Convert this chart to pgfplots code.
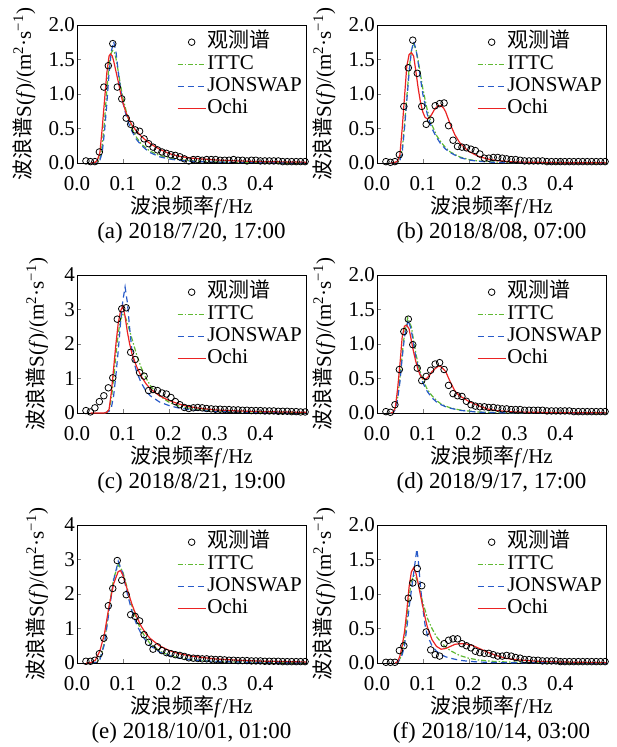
\documentclass[border=0pt]{standalone}
\usepackage{fontspec}
\setmainfont{Liberation Serif}
\newfontfamily\cjk{Noto Sans CJK SC}
\usepackage{pgfplots}
\usepackage{pgfplotstable}
\pgfplotsset{compat=1.18}
\definecolor{ittc}{RGB}{95,185,50}
\definecolor{jon}{RGB}{40,90,200}
\definecolor{ochi}{RGB}{235,35,35}
\newcommand\tf{\fontsize{21}{24}\selectfont}
\newcommand\cf{\fontsize{23}{26}\selectfont}

\pgfplotstableread{
fr A B C D E F
0.0195 0.03 0.02 0.07 0.02 0.05 0.01
0.0293 0.02 0.01 0.03 0.01 0.05 0.01
0.0391 0.02 0.02 0.15 0.12 0.08 0.01
0.0488 0.16 0.12 0.33 0.63 0.27 0.18
0.0586 1.10 0.82 0.50 1.18 0.72 0.25
0.0684 1.41 1.38 0.73 1.36 1.66 0.94
0.0781 1.73 1.78 1.02 0.99 2.16 1.16
0.0879 1.10 1.30 2.72 0.65 2.97 1.37
0.0977 0.93 0.82 3.02 0.47 2.40 1.12
0.1074 0.65 0.56 3.05 0.53 1.98 0.45
0.1172 0.56 0.62 1.76 0.62 1.40 0.19
0.1270 0.48 0.83 1.55 0.71 1.35 0.12
0.1367 0.46 0.86 1.17 0.73 1.22 0.10
0.1465 0.35 0.87 1.07 0.63 0.82 0.28
0.1563 0.28 0.54 0.65 0.40 0.60 0.33
0.1660 0.23 0.33 0.68 0.28 0.40 0.35
0.1758 0.19 0.24 0.65 0.25 0.47 0.35
0.1855 0.16 0.23 0.58 0.24 0.36 0.28
0.1953 0.14 0.22 0.55 0.17 0.30 0.25
0.2051 0.12 0.20 0.45 0.12 0.27 0.22
0.2148 0.11 0.18 0.33 0.10 0.24 0.17
0.2246 0.09 0.13 0.24 0.09 0.22 0.15
0.2344 0.06 0.07 0.16 0.09 0.19 0.14
0.2441 0.03 0.07 0.13 0.08 0.15 0.14
0.2539 0.05 0.08 0.15 0.08 0.14 0.12
0.2637 0.05 0.08 0.16 0.07 0.13 0.10
0.2734 0.04 0.07 0.15 0.06 0.12 0.10
0.2832 0.05 0.06 0.13 0.06 0.12 0.11
0.2930 0.05 0.05 0.12 0.05 0.11 0.10
0.3027 0.05 0.05 0.11 0.05 0.10 0.08
0.3125 0.04 0.04 0.11 0.05 0.10 0.07
0.3223 0.04 0.03 0.10 0.04 0.09 0.05
0.3320 0.04 0.03 0.10 0.04 0.08 0.05
0.3418 0.05 0.03 0.09 0.04 0.08 0.04
0.3516 0.04 0.03 0.09 0.04 0.07 0.04
0.3613 0.04 0.03 0.08 0.04 0.07 0.03
0.3711 0.03 0.02 0.08 0.03 0.07 0.03
0.3809 0.04 0.02 0.07 0.03 0.06 0.03
0.3906 0.04 0.02 0.07 0.03 0.06 0.03
0.4004 0.03 0.02 0.07 0.03 0.06 0.02
0.4102 0.03 0.02 0.06 0.03 0.05 0.02
0.4199 0.03 0.02 0.06 0.03 0.05 0.02
0.4297 0.03 0.02 0.06 0.02 0.05 0.02
0.4395 0.03 0.02 0.05 0.02 0.05 0.02
0.4492 0.02 0.02 0.05 0.02 0.04 0.02
0.4590 0.02 0.02 0.05 0.02 0.04 0.02
0.4688 0.02 0.02 0.04 0.02 0.04 0.02
0.4785 0.02 0.02 0.04 0.02 0.04 0.02
0.4883 0.02 0.02 0.03 0.02 0.04 0.02
0.4980 0.02 0.02 0.03 0.02 0.04 0.02
}\obs

\pgfplotsset{
  panel/.style={
    scale only axis, width=229pt, height=138pt,
    anchor=south west, clip=false,
    xmin=0, xmax=0.5, ymin=0,
    xtick={0,0.1,0.2,0.3,0.4},
    tick align=inside, xtick pos=bottom, ytick pos=left,
    major tick length=4pt,
    axis line style={line width=0.7pt},
    /pgf/number format/assume math mode=true,
    ticklabel style={font=\tf},
    xticklabel style={/pgf/number format/fixed, /pgf/number format/fixed zerofill, /pgf/number format/precision=1, inner sep=1pt, yshift=-12pt},
    yticklabel style={inner sep=2pt},
    xlabel={{\cjk 波浪频率}\textit{f}/Hz},
    xlabel style={font=\tf, at={(axis description cs:0.5,-0.319)}, anchor=center},
    ylabel={{\cjk 波浪谱}S(\textit{f})/(m\textsuperscript{2}·s\textsuperscript{−1})},
    ylabel style={font=\tf, anchor=center},
    legend style={at={(1,1)}, anchor=north east, draw=none, fill=none, inner sep=0pt,
      xshift=-3pt, yshift=-6pt, font=\tf,
      nodes={inner sep=1pt, text height=15pt, text depth=5pt}, row sep=0pt},
    legend cell align=left,
    legend image code/.code={\draw[mark repeat=2,mark phase=2,##1] plot coordinates {(0pt,0pt) (14pt,0pt) (28pt,0pt)};},
  },
  ytwo/.style={ymax=2, ytick={0,0.5,1,1.5,2},
    yticklabel style={/pgf/number format/fixed, /pgf/number format/fixed zerofill, /pgf/number format/precision=1},
    ylabel style={at={(axis description cs:-0.231,0.5)}}},
  yfour/.style={ymax=4, ytick={0,1,2,3,4},
    ylabel style={at={(axis description cs:-0.175,0.5)}}},
  obsp/.style={only marks, mark=o, mark size=3.3pt, black, mark options={line width=0.8pt}},
  ittcp/.style={color=ittc, line width=1.2pt, dash pattern=on 5pt off 2pt on 1.5pt off 2pt, mark=none},
  jonp/.style={color=jon, line width=1.2pt, dash pattern=on 6pt off 4pt, mark=none},
  ochip/.style={color=ochi, line width=1.2pt, mark=none},
}

\begin{document}
\begin{tikzpicture}
\useasboundingbox (0pt,0pt) rectangle (617pt,747pt);

% (a)
\begin{axis}[panel, ytwo, at={(77pt,584pt)}]
\addplot[obsp] table[x=fr,y=A] {\obs};
\addplot[ittcp] coordinates {(0.03,0) (0.04,0.005) (0.045,0.02) (0.05,0.06) (0.055,0.25) (0.06,0.6) (0.065,1.05) (0.07,1.42) (0.075,1.6) (0.078,1.63) (0.082,1.6) (0.085,1.52) (0.09,1.33) (0.095,1.13) (0.1,0.95) (0.11,0.68) (0.12,0.5) (0.13,0.37) (0.14,0.28) (0.15,0.22) (0.16,0.17) (0.18,0.11) (0.2,0.07) (0.22,0.05) (0.25,0.03) (0.3,0.015) (0.35,0.008) (0.4,0.005) (0.5,0.002)};
\addplot[jonp] coordinates {(0.03,0) (0.045,0.01) (0.05,0.04) (0.055,0.15) (0.06,0.45) (0.065,0.85) (0.07,1.3) (0.075,1.62) (0.08,1.76) (0.085,1.62) (0.09,1.32) (0.095,1.08) (0.1,0.88) (0.11,0.62) (0.12,0.46) (0.13,0.34) (0.14,0.26) (0.15,0.2) (0.16,0.15) (0.18,0.09) (0.2,0.06) (0.22,0.04) (0.25,0.025) (0.3,0.012) (0.4,0.004) (0.5,0.002)};
\addplot[ochip] coordinates {(0.03,0) (0.04,0.01) (0.045,0.05) (0.05,0.15) (0.055,0.5) (0.06,0.9) (0.065,1.3) (0.07,1.55) (0.073,1.58) (0.077,1.55) (0.08,1.48) (0.085,1.33) (0.09,1.18) (0.095,1.02) (0.1,0.88) (0.105,0.77) (0.11,0.68) (0.12,0.55) (0.13,0.46) (0.14,0.39) (0.15,0.33) (0.16,0.28) (0.17,0.24) (0.18,0.2) (0.2,0.14) (0.22,0.1) (0.25,0.07) (0.3,0.045) (0.35,0.03) (0.4,0.02) (0.5,0.012)};
\legend{{\cjk 观测谱},ITTC,JONSWAP,Ochi}
\node[font=\cf] at (axis description cs:0.5,-0.507) {(a) 2018/7/20, 17:00};
\end{axis}

% (b)
\begin{axis}[panel, ytwo, at={(377pt,584pt)}]
\addplot[obsp] table[x=fr,y=B] {\obs};
\addplot[ittcp] coordinates {(0.03,0) (0.045,0.01) (0.05,0.05) (0.055,0.2) (0.06,0.55) (0.065,0.95) (0.07,1.35) (0.075,1.62) (0.08,1.72) (0.085,1.65) (0.09,1.48) (0.095,1.28) (0.1,1.08) (0.11,0.76) (0.12,0.55) (0.13,0.4) (0.14,0.3) (0.15,0.22) (0.16,0.16) (0.18,0.09) (0.2,0.05) (0.22,0.03) (0.25,0.015) (0.3,0.006) (0.4,0.002) (0.5,0.001)};
\addplot[jonp] coordinates {(0.03,0) (0.045,0.01) (0.05,0.04) (0.055,0.15) (0.06,0.5) (0.065,0.9) (0.07,1.3) (0.075,1.62) (0.08,1.76) (0.085,1.65) (0.09,1.45) (0.095,1.22) (0.1,1.0) (0.11,0.7) (0.12,0.5) (0.13,0.37) (0.14,0.27) (0.15,0.2) (0.16,0.15) (0.18,0.08) (0.2,0.045) (0.22,0.025) (0.25,0.012) (0.3,0.005) (0.5,0.001)};
\addplot[ochip] coordinates {(0.03,0) (0.04,0.01) (0.045,0.03) (0.05,0.12) (0.055,0.5) (0.06,0.95) (0.065,1.4) (0.07,1.57) (0.075,1.6) (0.08,1.55) (0.085,1.32) (0.09,1.08) (0.095,0.88) (0.1,0.74) (0.105,0.66) (0.11,0.64) (0.115,0.66) (0.12,0.71) (0.125,0.77) (0.13,0.81) (0.135,0.83) (0.14,0.83) (0.145,0.8) (0.15,0.74) (0.155,0.65) (0.16,0.56) (0.17,0.41) (0.18,0.3) (0.19,0.23) (0.2,0.17) (0.22,0.1) (0.24,0.06) (0.26,0.035) (0.3,0.015) (0.4,0.005) (0.5,0.002)};
\legend{{\cjk 观测谱},ITTC,JONSWAP,Ochi}
\node[font=\cf] at (axis description cs:0.5,-0.507) {(b) 2018/8/08, 07:00};
\end{axis}

% (c)
\begin{axis}[panel, yfour, at={(77pt,334pt)}]
\addplot[obsp] table[x=fr,y=C] {\obs};
\addplot[ittcp] coordinates {(0.06,0) (0.065,0.02) (0.07,0.1) (0.075,0.4) (0.08,1.0) (0.085,1.7) (0.09,2.3) (0.095,2.7) (0.1,2.85) (0.105,2.8) (0.11,2.6) (0.115,2.38) (0.12,2.15) (0.13,1.7) (0.14,1.32) (0.15,1.03) (0.16,0.8) (0.17,0.63) (0.18,0.5) (0.2,0.32) (0.22,0.21) (0.25,0.12) (0.3,0.06) (0.35,0.035) (0.4,0.02) (0.5,0.008)};
\addplot[jonp] coordinates {(0.06,0) (0.07,0.05) (0.075,0.15) (0.08,0.5) (0.085,1.1) (0.09,1.8) (0.095,2.6) (0.1,3.25) (0.105,3.65) (0.11,3.2) (0.115,2.45) (0.12,1.8) (0.125,1.45) (0.13,1.2) (0.14,0.88) (0.15,0.65) (0.16,0.5) (0.18,0.32) (0.2,0.22) (0.22,0.15) (0.25,0.09) (0.3,0.045) (0.4,0.015) (0.5,0.006)};
\addplot[ochip] coordinates {(0.03,0) (0.06,0) (0.065,0.02) (0.07,0.1) (0.075,0.6) (0.08,1.3) (0.085,2.0) (0.09,2.6) (0.095,2.95) (0.1,3.1) (0.105,2.8) (0.11,2.35) (0.115,2.0) (0.12,1.72) (0.13,1.35) (0.14,1.07) (0.15,0.86) (0.16,0.7) (0.18,0.5) (0.2,0.37) (0.22,0.27) (0.24,0.2) (0.26,0.15) (0.3,0.09) (0.35,0.06) (0.4,0.04) (0.5,0.02)};
\legend{{\cjk 观测谱},ITTC,JONSWAP,Ochi}
\node[font=\cf] at (axis description cs:0.5,-0.507) {(c) 2018/8/21, 19:00};
\end{axis}

% (d)
\begin{axis}[panel, ytwo, at={(377pt,334pt)}]
\addplot[obsp] table[x=fr,y=D] {\obs};
\addplot[ittcp] coordinates {(0.03,0) (0.035,0.005) (0.04,0.06) (0.045,0.22) (0.05,0.5) (0.055,0.85) (0.06,1.15) (0.067,1.38) (0.075,1.25) (0.08,1.05) (0.085,0.86) (0.09,0.7) (0.1,0.48) (0.11,0.34) (0.12,0.25) (0.13,0.18) (0.14,0.13) (0.15,0.1) (0.16,0.075) (0.18,0.045) (0.2,0.028) (0.22,0.015) (0.25,0.008) (0.3,0.003) (0.5,0.001)};
\addplot[jonp] coordinates {(0.03,0) (0.035,0.005) (0.04,0.05) (0.045,0.2) (0.05,0.45) (0.055,0.8) (0.06,1.1) (0.068,1.35) (0.075,1.2) (0.08,0.98) (0.085,0.8) (0.09,0.65) (0.1,0.44) (0.11,0.31) (0.12,0.22) (0.13,0.16) (0.14,0.12) (0.15,0.09) (0.16,0.07) (0.18,0.04) (0.2,0.025) (0.22,0.012) (0.25,0.006) (0.3,0.002) (0.5,0.001)};
\addplot[ochip] coordinates {(0.03,0) (0.035,0.01) (0.04,0.08) (0.045,0.35) (0.05,0.7) (0.055,1.1) (0.06,1.26) (0.065,1.27) (0.07,1.22) (0.075,1.05) (0.08,0.88) (0.085,0.74) (0.09,0.62) (0.095,0.54) (0.1,0.5) (0.105,0.49) (0.11,0.51) (0.115,0.55) (0.12,0.6) (0.13,0.66) (0.135,0.68) (0.14,0.67) (0.15,0.6) (0.16,0.45) (0.17,0.32) (0.18,0.25) (0.19,0.21) (0.2,0.17) (0.22,0.11) (0.24,0.06) (0.26,0.035) (0.3,0.015) (0.4,0.005) (0.5,0.002)};
\legend{{\cjk 观测谱},ITTC,JONSWAP,Ochi}
\node[font=\cf] at (axis description cs:0.5,-0.507) {(d) 2018/9/17, 17:00};
\end{axis}

% (e)
\begin{axis}[panel, yfour, at={(77pt,84pt)}]
\addplot[obsp] table[x=fr,y=E] {\obs};
\addplot[ittcp] coordinates {(0.03,0) (0.04,0.01) (0.05,0.1) (0.06,0.6) (0.07,1.6) (0.08,2.45) (0.09,2.85) (0.1,2.65) (0.11,2.15) (0.12,1.65) (0.13,1.25) (0.14,0.95) (0.15,0.73) (0.16,0.56) (0.18,0.35) (0.2,0.23) (0.22,0.16) (0.25,0.09) (0.3,0.045) (0.4,0.015) (0.5,0.006)};
\addplot[jonp] coordinates {(0.03,0) (0.04,0.01) (0.05,0.1) (0.06,0.55) (0.07,1.5) (0.08,2.4) (0.09,2.95) (0.1,2.6) (0.11,2.0) (0.12,1.5) (0.13,1.12) (0.14,0.85) (0.15,0.65) (0.16,0.5) (0.18,0.32) (0.2,0.22) (0.22,0.15) (0.25,0.09) (0.3,0.045) (0.4,0.015) (0.5,0.006)};
\addplot[ochip] coordinates {(0.02,0) (0.03,0.01) (0.04,0.08) (0.05,0.35) (0.06,0.85) (0.07,1.65) (0.08,2.3) (0.09,2.65) (0.095,2.68) (0.1,2.55) (0.11,2.12) (0.12,1.7) (0.13,1.35) (0.14,1.07) (0.15,0.86) (0.16,0.71) (0.18,0.5) (0.2,0.37) (0.22,0.28) (0.25,0.2) (0.3,0.12) (0.35,0.08) (0.4,0.055) (0.5,0.03)};
\legend{{\cjk 观测谱},ITTC,JONSWAP,Ochi}
\node[font=\cf] at (axis description cs:0.5,-0.507) {(e) 2018/10/01, 01:00};
\end{axis}

% (f)
\begin{axis}[panel, ytwo, at={(377pt,84pt)}]
\addplot[obsp] table[x=fr,y=F] {\obs};
\addplot[ittcp] coordinates {(0.04,0) (0.045,0.01) (0.05,0.05) (0.055,0.15) (0.06,0.35) (0.065,0.62) (0.07,0.95) (0.075,1.18) (0.08,1.27) (0.085,1.24) (0.09,1.15) (0.1,0.88) (0.11,0.65) (0.12,0.5) (0.13,0.38) (0.14,0.3) (0.15,0.23) (0.16,0.18) (0.18,0.11) (0.2,0.07) (0.22,0.045) (0.25,0.025) (0.3,0.01) (0.4,0.003) (0.5,0.001)};
\addplot[jonp] coordinates {(0.04,0) (0.045,0.01) (0.05,0.05) (0.055,0.12) (0.06,0.25) (0.065,0.5) (0.07,0.8) (0.075,1.05) (0.08,1.3) (0.087,1.65) (0.09,1.5) (0.095,1.1) (0.1,0.8) (0.105,0.55) (0.11,0.4) (0.12,0.25) (0.13,0.17) (0.14,0.12) (0.15,0.09) (0.16,0.07) (0.18,0.04) (0.2,0.025) (0.22,0.015) (0.25,0.008) (0.3,0.003) (0.5,0.001)};
\addplot[ochip] coordinates {(0.04,0) (0.045,0.02) (0.05,0.1) (0.055,0.25) (0.06,0.45) (0.065,0.75) (0.07,1.1) (0.075,1.32) (0.08,1.38) (0.085,1.3) (0.09,1.15) (0.095,0.98) (0.1,0.82) (0.105,0.66) (0.11,0.52) (0.12,0.34) (0.13,0.24) (0.14,0.2) (0.15,0.21) (0.16,0.24) (0.17,0.27) (0.18,0.28) (0.19,0.28) (0.2,0.27) (0.21,0.25) (0.22,0.22) (0.24,0.16) (0.26,0.11) (0.28,0.07) (0.3,0.05) (0.35,0.025) (0.4,0.015) (0.5,0.005)};
\legend{{\cjk 观测谱},ITTC,JONSWAP,Ochi}
\node[font=\cf] at (axis description cs:0.5,-0.507) {(f) 2018/10/14, 03:00};
\end{axis}
\end{tikzpicture}
\end{document}
